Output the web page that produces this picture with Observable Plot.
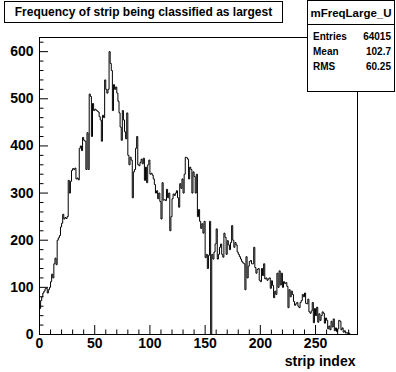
<!DOCTYPE html>
<html>
<head>
<meta charset="utf-8">
<script src="https://cdn.jsdelivr.net/npm/d3@7"></script>
<script src="https://cdn.jsdelivr.net/npm/@observablehq/plot@0.6"></script>
<style>
  html, body { margin: 0; padding: 0; background: #fff; }
  #wrap { position: relative; width: 396px; height: 372px; font-family: "Liberation Sans", Arial, Helvetica, sans-serif; font-weight: bold; color: #000; }
  #wrap svg { position: absolute; left: 0; top: 0; }
  .box { position: absolute; background: #fff; border: 1px solid #000; box-sizing: border-box; }
  #title { left: 4px; top: 1px; width: 279px; height: 22px; font-size: 12px; line-height: 20px; text-align: center; }
  #stats { left: 307px; top: 0px; width: 88px; height: 92px; }
  #stats .hdr { height: 23px; border-bottom: 1px solid #000; font-size: 11.5px; line-height: 24px; text-align: center; }
  #stats .row { display: flex; justify-content: space-between; padding: 0 3px 0 5px; font-size: 10px; height: 15px; line-height: 15px; }
  #stats .row:first-of-type { margin-top: 0; }
</style>
</head>
<body>
<div id="wrap"></div>
<script>
// Histogram: entries per strip index (bin width 1)
const counts = [
  55,72,80,88,92,97,98,88,95,100,
  112,128,120,150,162,148,200,205,210,228,
  236,255,245,248,246,250,327,300,325,348,
  352,350,353,330,332,328,395,400,390,418,
  412,410,350,428,350,510,505,420,490,475,
  478,476,474,472,462,455,410,465,460,540,
  520,512,520,600,575,560,475,530,520,525,
  512,495,470,440,412,475,455,430,415,470,
  380,360,376,370,290,345,350,395,420,360,
  358,365,372,362,374,327,355,322,360,370,
  340,342,338,330,318,300,305,288,300,282,
  245,322,285,286,284,308,290,300,220,250,
  288,298,295,300,305,290,270,320,310,330,
  300,340,376,375,372,330,355,350,300,345,
  335,300,340,250,265,240,225,235,215,240,
  163,170,140,168,240,0,170,160,175,192,
  224,160,170,185,192,170,164,215,206,170,
  199,190,180,195,231,200,185,195,190,175,
  170,165,160,155,152,150,95,165,120,145,
  155,157,150,150,185,142,130,138,140,115,
  112,140,125,150,118,120,115,118,120,98,
  114,104,78,92,85,130,100,135,105,130,
  100,112,108,110,102,57,95,80,92,85,
  70,62,65,68,60,57,68,72,85,80,
  88,66,65,75,48,45,50,68,25,55,
  40,58,26,44,30,40,48,45,24,35,
  30,12,18,10,28,16,33,8,14,6,
  12,30,28,10,14,5,8,3,4,2,
  3,0,0,0,0,0,0,0
];
const xRange = [0, 288];
const yRange = [0, 630];
const xMajor = [0, 50, 100, 150, 200, 250];
const xMinor = d3.range(0, 281, 10).filter(v => v % 50 !== 0);
const yMajor = [0, 100, 200, 300, 400, 500, 600];
const yMinor = d3.range(0, 621, 20).filter(v => v % 100 !== 0);
const histName = "mFreqLarge_U";
const titleText = "Frequency of strip being classified as largest";
const xLabel = "strip index";
const statsRows = [["Entries", "64015"], ["Mean", "102.7"], ["RMS", "60.25"]];

const points = counts.map((v, i) => ({x: i, y: v}));
points.push({x: counts.length, y: counts[counts.length - 1]});

const font = {fontFamily: "Liberation Sans, Arial, Helvetica, sans-serif", fontWeight: "bold", fontSize: 14};

const chart = Plot.plot({
  width: 396,
  height: 372,
  marginTop: 37,
  marginBottom: 38,
  marginLeft: 39,
  marginRight: 39,
  style: {background: "#fff", color: "#000", overflow: "visible"},
  x: {domain: xRange},
  y: {domain: yRange},
  marks: [
    Plot.line(points, {x: "x", y: "y", curve: "step-after", stroke: "#000", strokeWidth: 1}),
    Plot.axisX(xMajor, {tickSize: 0, tickPadding: 4, label: null, ...font}),
    Plot.axisX(xMajor, {tickSize: -9, fill: "none", label: null}),
    Plot.axisX(xMinor, {tickSize: -4.5, fill: "none", label: null}),
    Plot.axisY(yMajor, {tickSize: 0, tickPadding: 6, label: null, ...font}),
    Plot.axisY(yMajor, {tickSize: -9, fill: "none", label: null}),
    Plot.axisY(yMinor, {tickSize: -4.5, fill: "none", label: null}),
    Plot.text([xLabel], {frameAnchor: "bottom-right", dx: -2, dy: 27, textAnchor: "end", lineAnchor: "middle", ...font}),
    Plot.frame({stroke: "#000"})
  ]
});

const wrap = document.getElementById("wrap");
wrap.appendChild(chart);

const t = document.createElement("div");
t.className = "box"; t.id = "title"; t.textContent = titleText;
wrap.appendChild(t);

const s = document.createElement("div");
s.className = "box"; s.id = "stats";
const h = document.createElement("div");
h.className = "hdr"; h.textContent = histName;
s.appendChild(h);
const spacer = document.createElement("div");
spacer.style.height = "4px";
s.appendChild(spacer);
for (const [k, v] of statsRows) {
  const r = document.createElement("div");
  r.className = "row";
  const a = document.createElement("span"); a.textContent = k;
  const b = document.createElement("span"); b.textContent = v;
  r.appendChild(a); r.appendChild(b);
  s.appendChild(r);
}
wrap.appendChild(s);
</script>
</body>
</html>
